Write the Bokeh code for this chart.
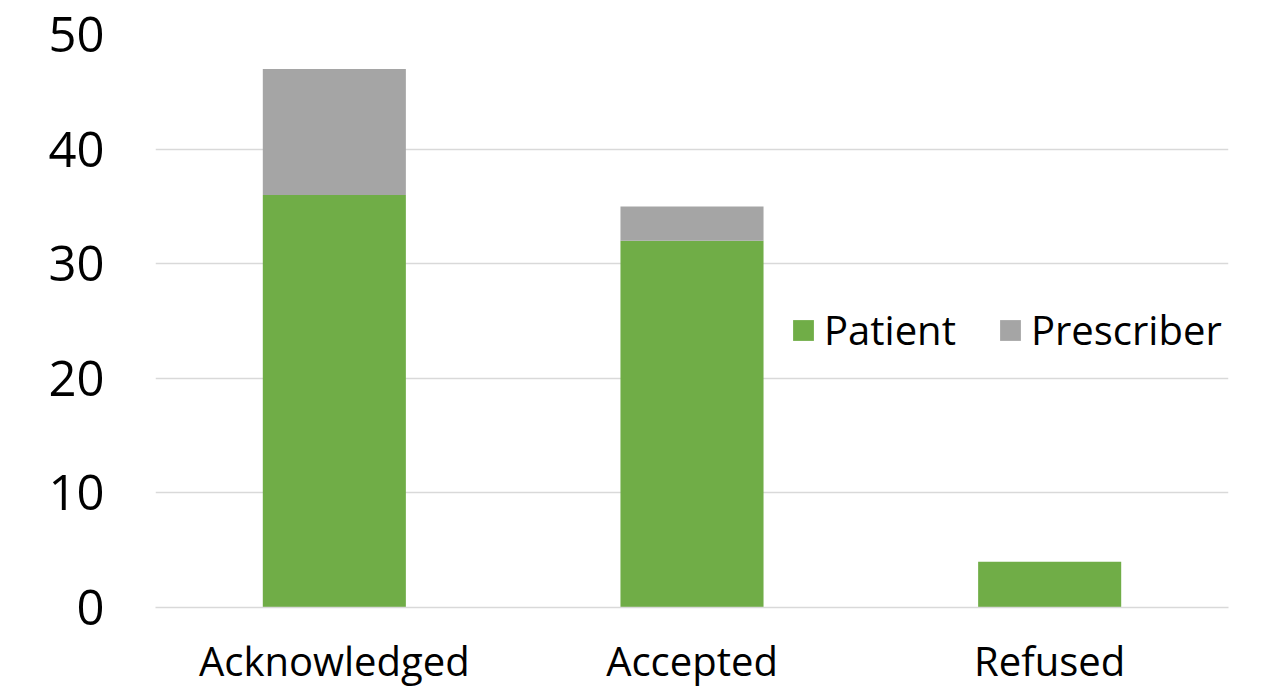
from bokeh.plotting import figure
from bokeh.models import ColumnDataSource, Legend
from bokeh.embed import file_html
from bokeh.resources import INLINE

categories = ["Acknowledged", "Accepted", "Refused"]
patient = [36, 32, 4]
prescriber = [11, 3, 0]
series = ["Patient", "Prescriber"]
colors = ["#70AD47", "#A5A5A5"]
y_ticks = [0, 10, 20, 30, 40, 50]

source = ColumnDataSource(data=dict(cat=categories, Patient=patient, Prescriber=prescriber))

p = figure(x_range=categories, y_range=(0, 50), width=1263, height=690,
           output_backend="svg", toolbar_location=None,
           min_border_left=155, min_border_right=35, min_border_top=34, min_border_bottom=60)

renderers = p.vbar_stack(series, x="cat", width=0.4, fill_color=colors, line_color=None,
                         source=source)

p.outline_line_color = None
p.xgrid.grid_line_color = None
p.ygrid.grid_line_color = "#D9D9D9"
p.ygrid.grid_line_width = 1.5
p.yaxis.ticker = y_ticks
p.yaxis.axis_line_color = None
p.yaxis.major_tick_line_color = None
p.yaxis.minor_tick_line_color = None
p.yaxis.major_label_text_font = "Open Sans"
p.yaxis.major_label_text_font_size = "49px"
p.yaxis.major_label_text_color = "#000000"
p.yaxis.major_label_standoff = 45

p.xaxis.axis_line_color = "#D9D9D9"
p.xaxis.axis_line_width = 1.5
p.xaxis.major_tick_line_color = None
p.xaxis.major_label_text_font = "Open Sans"
p.xaxis.major_label_text_font_size = "40px"
p.xaxis.major_label_text_color = "#000000"
p.xaxis.major_label_standoff = 19

legend = Legend(items=[(s, [r]) for s, r in zip(series, renderers)],
                orientation="horizontal", location=(635, 250),
                border_line_color=None, background_fill_alpha=0,
                label_text_font="Open Sans", label_text_font_size="40px",
                label_text_color="#000000", glyph_width=26, glyph_height=26,
                spacing=41, label_standoff=8, padding=0, margin=0)
p.add_layout(legend, "center")

open("out.html", "w").write(file_html(p, INLINE))
